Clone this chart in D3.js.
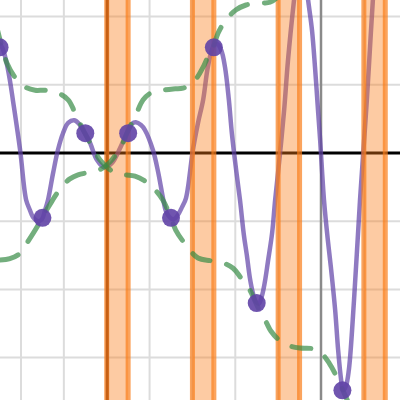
<!DOCTYPE html>
<html>
<head>
<meta charset="utf-8">
<script src="https://cdn.jsdelivr.net/npm/d3@7"></script>
<style>
    body { margin: 0; background: #fff; }
</style>
</head>
<body>
<div id="app"></div>
<script>
// grid
const xTicks = [-7, -6, -5, -4, -3, -2, -1, 0, 1];
const yTicks = [-3, -2, -1, 0, 1, 2];

// shaded strips
const bandStart = [-5, -3, -1, 1];
const bandEnd = [-4.5, -2.5, -0.5, 1.5];

// purple points
const pointX = [-7.5, -6.5, -5.5, -4.5, -3.5, -2.5, -1.5, -0.5, 0.5];
const pointY = [1.55, -0.95, 0.29, 0.29, -0.95, 1.55, -2.20, 2.80, -3.48];

// purple curve
const purpleX = [-7.58, -7.51, -7.44, -7.35, -7.26, -7.19, -7.02, -6.88, -6.79, -6.72, -6.60, -6.51, -6.44, -6.37, -6.25, -6.14, -6.02, -5.90, -5.76, -5.65, -5.51, -5.39, -5.23, -5.06, -4.88, -4.69, -4.53, -4.41, -4.32, -4.20, -4.11, -3.92, -3.80, -3.69, -3.62, -3.52, -3.43, -3.34, -3.24, -3.15, -2.99, -2.87, -2.75, -2.64, -2.52, -2.43, -2.33, -2.24, -2.15, -2.08, -1.98, -1.89, -1.80, -1.73, -1.66, -1.59, -1.52, -1.45, -1.38, -1.31, -1.24, -1.14, -1.07, -0.96, -0.86, -0.77, -0.63, -0.56, -0.47, -0.37, -0.30, -0.21, -0.14, -0.07, -0.02, 0.07, 0.16, 0.23, 0.33, 0.40, 0.47, 0.51, 0.58, 0.65, 0.77, 0.91, 0.99, 1.07, 1.14, 1.21, 1.28];
const purpleY = [1.58, 1.60, 1.55, 1.36, 1.07, 0.78, 0.04, -0.69, -0.84, -0.94, -1.00, -0.97, -0.84, -0.69, -0.29, 0.04, 0.29, 0.44, 0.48, 0.43, 0.29, 0.15, -0.10, -0.21, -0.15, 0.07, 0.29, 0.43, 0.45, 0.41, 0.34, 0.04, -0.28, -0.65, -0.85, -0.95, -0.97, -0.91, -0.79, -0.66, 0.04, 0.44, 0.78, 1.26, 1.55, 1.60, 1.51, 1.26, 0.78, 0.29, -0.25, -0.69, -1.20, -1.50, -1.83, -2.05, -2.18, -2.21, -2.10, -1.89, -1.60, -1.17, -0.69, -0.03, 0.63, 1.36, 2.24, 2.61, 2.76, 2.61, 2.24, 1.80, 1.26, 0.63, 0.19, -0.69, -1.28, -1.67, -2.30, -2.89, -3.33, -3.48, -3.42, -3.18, -2.16, -0.69, 0.04, 0.78, 1.51, 2.24, 2.83];

// green dashed, falling steps
const greenDownX = [-7.58, -7.49, -7.44, -7.33, -7.14, -6.91, -6.67, -6.44, -6.14, -5.90, -5.74, -5.58, -5.51, -5.39, -5.16, -4.99, -4.81, -4.57, -4.34, -4.06, -3.83, -3.69, -3.50, -3.39, -3.15, -2.87, -2.57, -2.29, -2.05, -1.87, -1.66, -1.52, -1.38, -1.28, -1.17, -0.98, -0.72, -0.49, -0.19, 0, 0.19, 0.35, 0.51, 0.63, 0.72];
const greenDownY = [1.88, 1.66, 1.55, 1.32, 1.11, 0.97, 0.92, 0.92, 0.88, 0.78, 0.59, 0.38, 0.29, 0.15, -0.10, -0.21, -0.29, -0.32, -0.34, -0.43, -0.57, -0.69, -0.95, -1.13, -1.35, -1.54, -1.58, -1.61, -1.69, -1.83, -2.01, -2.20, -2.38, -2.48, -2.61, -2.74, -2.83, -2.86, -2.87, -2.93, -3.08, -3.26, -3.48, -3.65, -3.80];

// green dashed, rising steps
const greenUpX = [-7.49, -7.26, -7.02, -6.86, -6.63, -6.51, -6.32, -6.16, -6.02, -5.86, -5.67, -5.46, -5.23, -5.09, -4.92, -4.76, -4.62, -4.53, -4.32, -4.15, -3.97, -3.69, -3.45, -3.22, -2.94, -2.75, -2.64, -2.52, -2.40, -2.22, -1.98, -1.75, -1.42, -1.19, -0.96, -0.72, -0.51, -0.37];
const greenUpY = [-1.57, -1.55, -1.47, -1.32, -1.09, -0.95, -0.75, -0.59, -0.47, -0.38, -0.32, -0.29, -0.26, -0.22, -0.13, 0, 0.15, 0.29, 0.56, 0.78, 0.88, 0.92, 0.94, 0.95, 1.07, 1.26, 1.41, 1.55, 1.76, 1.95, 2.10, 2.17, 2.20, 2.21, 2.32, 2.54, 2.82, 3.05];

const width = 400;
const height = 400;

const svg = d3.select('#app')
    .append('svg')
    .attr('width', width)
    .attr('height', height)
    .style('display', 'block');

const x = d3.scaleLinear().domain([-7, 0]).range([21, 321]);
const y = d3.scaleLinear().domain([0, -1]).range([153, 221.2]);

const pairs = (xs, ys) => xs.map((v, i) => [v, ys[i]]);

// grid lines
svg.append('g')
    .selectAll('line')
    .data(xTicks.filter(d => d !== 0))
    .enter()
    .append('line')
    .attr('x1', d => x(d)).attr('x2', d => x(d))
    .attr('y1', 0).attr('y2', height)
    .attr('stroke', '#dcdcdc')
    .attr('stroke-width', 2);

svg.append('g')
    .selectAll('line')
    .data(yTicks.filter(d => d !== 0))
    .enter()
    .append('line')
    .attr('y1', d => y(d)).attr('y2', d => y(d))
    .attr('x1', 0).attr('x2', width)
    .attr('stroke', '#dcdcdc')
    .attr('stroke-width', 2);

// axes
svg.append('line')
    .attr('x1', x(0)).attr('x2', x(0))
    .attr('y1', 0).attr('y2', height)
    .attr('stroke', '#8a8a8a')
    .attr('stroke-width', 2.5);

svg.append('line')
    .attr('x1', 0).attr('x2', width)
    .attr('y1', y(0)).attr('y2', y(0))
    .attr('stroke', '#000')
    .attr('stroke-width', 3);

const line = d3.line()
    .x(d => x(d[0]))
    .y(d => y(d[1]))
    .curve(d3.curveCatmullRom.alpha(0.5));

// purple curve
svg.append('path')
    .attr('d', line(pairs(purpleX, purpleY)))
    .attr('fill', 'none')
    .attr('stroke', '#6042a6')
    .attr('stroke-opacity', 0.7)
    .attr('stroke-width', 4.5)
    .attr('stroke-linejoin', 'round');

// orange strips on top of the curve
const bands = svg.append('g')
    .selectAll('g')
    .data(bandStart.map((d, i) => [d, bandEnd[i]]))
    .enter()
    .append('g');

bands.append('rect')
    .attr('x', d => x(d[0]))
    .attr('width', d => x(d[1]) - x(d[0]))
    .attr('y', 0)
    .attr('height', height)
    .attr('fill', '#fa7e19')
    .attr('fill-opacity', 0.4);

bands.selectAll('line')
    .data(d => d)
    .enter()
    .append('line')
    .attr('x1', d => x(d)).attr('x2', d => x(d))
    .attr('y1', 0).attr('y2', height)
    .attr('stroke', '#fa7e19')
    .attr('stroke-opacity', 0.7)
    .attr('stroke-width', 5);

svg.append('line')
    .attr('x1', x(bandStart[0]) + 0.5).attr('x2', x(bandStart[0]) + 0.5)
    .attr('y1', 0).attr('y2', height)
    .attr('stroke', '#c65f14')
    .attr('stroke-width', 3);

// green dashed curves
[pairs(greenDownX, greenDownY), pairs(greenUpX, greenUpY)].forEach(function (data) {
    svg.append('path')
        .attr('d', line(data))
        .attr('fill', 'none')
        .attr('stroke', '#388c46')
        .attr('stroke-opacity', 0.7)
        .attr('stroke-width', 5)
        .attr('stroke-linecap', 'round')
        .attr('stroke-dasharray', '19,17');
});

// points
svg.append('g')
    .selectAll('circle')
    .data(pairs(pointX, pointY))
    .enter()
    .append('circle')
    .attr('cx', d => x(d[0]))
    .attr('cy', d => y(d[1]))
    .attr('r', 9)
    .attr('fill', '#6042a6')
    .attr('fill-opacity', 0.9);
</script>
</body>
</html>
